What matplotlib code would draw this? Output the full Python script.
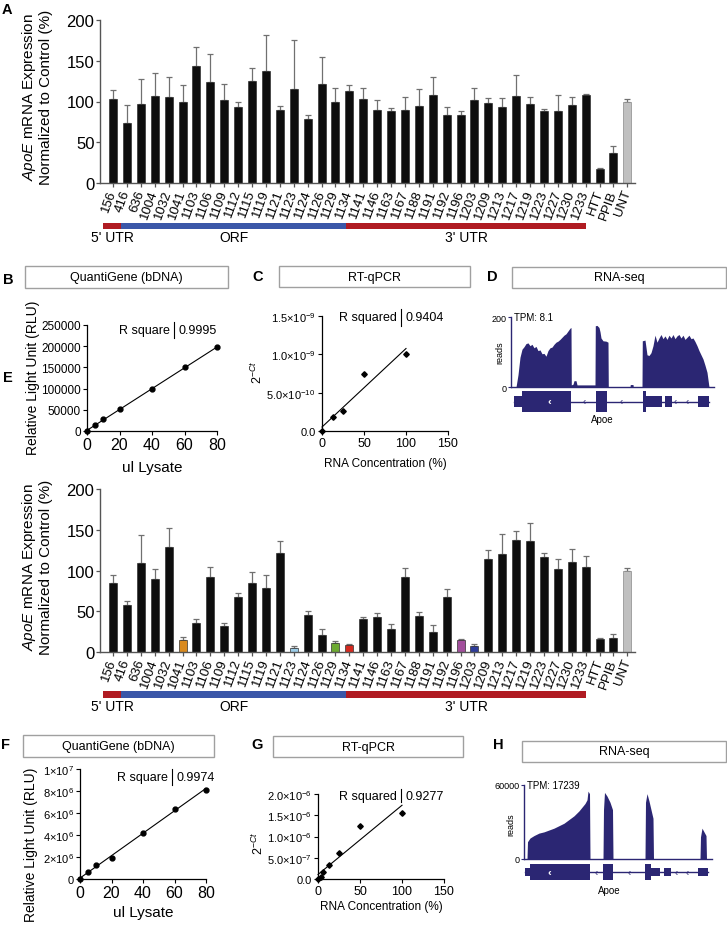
import numpy as np
import matplotlib
matplotlib.use('Agg')
import matplotlib.pyplot as plt
from matplotlib.patches import Rectangle

plt.rcParams['font.family'] = ['Liberation Sans', 'DejaVu Sans']
plt.rcParams['mathtext.fontset'] = 'custom'
plt.rcParams['mathtext.rm'] = 'Liberation Sans'
plt.rcParams['mathtext.it'] = 'Liberation Sans:italic'
plt.rcParams['mathtext.bf'] = 'Liberation Sans:bold'

W, H = 727, 937

# ---------------- data ----------------
oligos = ['156', '416', '636', '1004', '1032', '1041', '1103', '1106', '1109', '1112',
          '1115', '1119', '1121', '1123', '1124', '1126', '1129', '1134', '1141', '1146',
          '1163', '1167', '1188', '1191', '1192', '1196', '1203', '1209', '1213', '1217',
          '1219', '1223', '1227', '1230', '1233', 'HTT', 'PPIB', 'UNT']

a_mean = [103, 74, 96.5, 107, 105, 99, 144, 124, 102, 93,
          125, 137, 89, 115, 78, 121.5, 100, 113, 103, 89,
          88, 90, 95, 107.6, 84, 83.4, 102, 98, 93, 107,
          96.5, 88, 88, 96, 108, 17, 37, 100]
a_err = [11, 22, 31.5, 28, 25, 21, 23, 34, 20, 7,
         16, 45, 5.5, 61, 6, 33.5, 16, 7, 13, 13,
         3.6, 15, 20, 22, 9.7, 5.3, 14, 6.7, 11.7, 25,
         9.5, 2.4, 19.6, 10, 1.6, 2, 8.8, 3.5]

e_mean = [85, 58, 109, 89, 129, 15, 35, 92.5, 32, 67.5,
          85, 79, 121, 5.2, 46, 21, 11.6, 8.8, 40.5, 43,
          28, 92.5, 44, 24.5, 67, 15.2, 7.2, 113.5, 120, 138,
          136.5, 116.5, 102, 110, 104, 16, 16.8, 100]
e_err = [9, 5, 34, 13, 23, 4, 5, 12, 3, 5.5,
         13.5, 15, 15, 2.4, 4, 7.5, 2, 1.2, 2, 5,
         6.5, 10.5, 5.6, 8.5, 10, 0.8, 2.4, 12, 25, 10,
         22, 5, 12, 16, 14, 1, 5.6, 3.5]

e_highlight = {'1041': '#D98A1E', '1123': '#9CCDE8', '1129': '#6DAA32',
               '1134': '#D5291F', '1196': '#A24F9C', '1203': '#2E3C99'}
control_label = 'UNT'

regions = ["5' UTR", 'ORF', "3' UTR"]
region_start = [-0.7, 0.6, 16.75]
region_end = [0.6, 16.75, 34.05]
region_colors = ['#B01B22', '#3B57A8', '#B01B22']

b_x = [0, 5, 10, 20, 40, 60, 80]
b_y = [0, 13000, 28000, 52000, 98000, 151000, 197000]
b_r2 = '0.9995'

c_x = [0, 12.5, 25, 50, 100]
c_y = [0, 1.8e-10, 2.6e-10, 7.4e-10, 1.0e-9]
c_r2 = '0.9404'

f_x = [0, 5, 10, 20, 40, 60, 80]
f_y = [0, 6e5, 1.3e6, 1.9e6, 4.2e6, 6.4e6, 8.1e6]
f_r2 = '0.9974'

g_x = [0, 3.125, 6.25, 12.5, 25, 50, 100]
g_y = [0, 0.5e-7, 1.6e-7, 3.3e-7, 6.1e-7, 1.25e-6, 1.55e-6]
g_r2 = '0.9277'

# RNA-seq coverage (position along locus, reads)
d_pos = [5, 7, 9, 11, 13, 15, 17, 19, 21, 23, 25, 27, 29, 31, 33, 35, 37, 39, 41, 43,
         45, 47, 49, 51, 53, 55, 57, 59, 60, 60.3, 62, 63, 65, 66, 84, 84.3, 86, 88, 89, 90,
         92, 95, 97, 97.3, 119, 119.3, 122, 122.3, 131, 131.3, 134, 136, 138, 140, 142, 144,
         146, 148, 150, 152, 154, 156, 158, 160, 162, 164, 166, 168, 170, 172, 174, 176, 178,
         180, 182, 184, 186, 188, 190, 192, 194, 196, 198]
d_reads = [0, 35, 85, 108, 115, 124, 126, 118, 122, 112, 116, 104, 106, 95, 96, 88, 104, 112, 114, 122,
           128, 131, 136, 142, 148, 152, 160, 168, 170, 6, 8, 18, 18, 6, 6, 175, 176, 170, 158, 140,
           132, 131, 128, 0, 0, 7, 7, 0, 0, 132, 134, 92, 90, 98, 118, 148,
           128, 140, 150, 138, 146, 136, 148, 140, 150, 138, 146, 150, 140, 148, 136, 142, 148,
           138, 140, 130, 118, 104, 92, 80, 62, 42, 0]
d_tpm = 'TPM: 8.1'
d_ymax = 200
d_exon_start = [3, 11, 85, 132, 135, 154, 187]
d_exon_end = [11, 60, 96, 135, 151, 161, 198]
d_exon_thick = [False, True, True, True, False, False, False]
d_intron_arrows = [73, 110, 164, 176]
d_exon_arrows = [38]

h_pos = [3, 3.5, 6, 10, 15, 20, 25, 30, 35, 40, 45, 50, 55, 58, 61, 63, 64, 65.5, 66,
         79, 79.5, 80.5, 83, 86, 88.5, 89, 121, 121.5, 123, 125, 127, 129, 129.5,
         176, 176.5, 178, 180, 182, 182.5]
h_reads = [0, 14000, 17000, 19000, 21000, 22000, 23500, 25000, 27000, 29000, 32000, 35000, 39000,
           42000, 45000, 48000, 55000, 53000, 0,
           0, 40000, 54000, 51000, 46000, 40000, 0, 0, 46000, 53000, 47000, 40000, 33000, 0,
           0, 18000, 25000, 22000, 19000, 0]
h_tpm = 'TPM: 17239'
h_ymax = 60000
h_exon_start = [1, 6, 79, 121, 127, 140, 174]
h_exon_end = [6, 66, 89, 127, 136, 147, 184]
h_exon_thick = [False, True, True, True, False, False, False]
h_intron_arrows = [72, 105, 152, 163]
h_exon_arrows = [25]

NAVY = '#2B2673'

# ---------------- figure ----------------
fig = plt.figure(figsize=(W / 100, H / 100), dpi=100)


def px_axes(x0, y0, x1, y1):
    return fig.add_axes([x0 / W, 1 - y1 / H, (x1 - x0) / W, (y1 - y0) / H])


def ftext(x, y, s, **kw):
    return fig.text(x / W, 1 - y / H, s, **kw)


def title_box(x0, y0, x1, y1, s):
    fig.add_artist(Rectangle((x0 / W, 1 - y1 / H), (x1 - x0) / W, (y1 - y0) / H,
                             transform=fig.transFigure, fill=False,
                             edgecolor='#A0A0A0', linewidth=1.0))
    ftext((x0 + x1) / 2, (y0 + y1) / 2, s, ha='center', va='center', fontsize=9)


def panel_letter(x, y, s):
    ftext(x, y, s, ha='center', va='center', fontsize=10.5, fontweight='bold')


XL = (-0.94, 37.55)
BAR_X0, BAR_X1 = 100, 635


def data_to_px(v):
    return BAR_X0 + (v - XL[0]) / (XL[1] - XL[0]) * (BAR_X1 - BAR_X0)


def bar_panel(rect, means, errs, colors, edgecolors, region_rect, label_y, ylab_cy):
    ax = px_axes(*rect)
    x = np.arange(len(oligos))
    ax.errorbar(x, means, yerr=[np.zeros(len(x)), errs], fmt='none', ecolor='#707070',
                elinewidth=0.9, capsize=2.2, capthick=0.9, zorder=1)
    ax.bar(x, means, width=0.58, color=colors, edgecolor=edgecolors, linewidth=0.5, zorder=2)
    ax.set_xlim(*XL)
    ax.set_ylim(0, 200)
    ax.set_yticks([0, 50, 100, 150, 200])
    ax.tick_params(axis='y', labelsize=12, length=3, width=0.9, pad=1, color='#555555')
    ax.set_xticks(x)
    ax.set_xticklabels(oligos, rotation=70, ha='right', va='center', rotation_mode='anchor',
                       fontsize=9.5)
    ax.tick_params(axis='x', length=3, width=0.9, pad=2, color='#555555')
    for s in ['top', 'right']:
        ax.spines[s].set_visible(False)
    for s in ['left', 'bottom']:
        ax.spines[s].set_color('#555555')
        ax.spines[s].set_linewidth(1.0)
    ftext(29, ylab_cy, r'$\it{ApoE}$ mRNA Expression', rotation=90, ha='center', va='center',
          fontsize=11)
    ftext(46.5, ylab_cy, 'Normalized to Control (%)', rotation=90, ha='center', va='center',
          fontsize=11)
    axr = px_axes(*region_rect)
    for name, s0, s1, col in zip(regions, region_start, region_end, region_colors):
        axr.barh(0, s1 - s0, left=s0, height=1.0, color=col, linewidth=0)
    axr.set_xlim(*XL)
    axr.set_ylim(-0.5, 0.5)
    axr.axis('off')
    for name, s0, s1 in zip(regions, region_start, region_end):
        ftext(data_to_px((s0 + s1) / 2), label_y, name, ha='center', va='center', fontsize=10)
    return ax


def r_text(ax, xb, yb, left, right, fs=9):
    ax.text(xb - 0.035, yb, left, transform=ax.transAxes, ha='right', va='center', fontsize=fs)
    ax.text(xb + 0.035, yb, right, transform=ax.transAxes, ha='left', va='center', fontsize=fs)
    ax.plot([xb, xb], [yb - 0.075, yb + 0.075], transform=ax.transAxes, color='black',
            lw=0.8, clip_on=False)


def style_scatter_ax(ax):
    for s in ['top', 'right']:
        ax.spines[s].set_visible(False)
    for s in ['left', 'bottom']:
        ax.spines[s].set_linewidth(0.9)
    ax.tick_params(length=3, width=0.8, pad=1.5)


def fit_line(ax, xs, ys):
    k, b = np.polyfit(xs, ys, 1)
    xx = np.array([min(xs), max(xs)])
    ax.plot(xx, k * xx + b, color='black', lw=0.8, clip_on=False)


def coverage_panel(cov_rect, gene_rect, pos, reads, ymax, ylabel_max, tpm, reads_xy,
                   exs, exe, exthick, iarrows, earrows, apoe_xy, xmax):
    ax = px_axes(*cov_rect)
    ax.fill_between(pos, reads, 0, color=NAVY, linewidth=0)
    ax.set_xlim(0, xmax)
    ax.set_ylim(0, ymax)
    ax.set_xticks([])
    ax.set_yticks([0, ymax])
    ax.set_yticklabels(['0', ylabel_max], fontsize=6.5)
    ax.tick_params(axis='y', length=2, width=0.8, pad=1, color=NAVY)
    for s in ['top', 'right']:
        ax.spines[s].set_visible(False)
    for s in ['left', 'bottom']:
        ax.spines[s].set_color(NAVY)
        ax.spines[s].set_linewidth(1.0)
    ax.text(0.015, 1.0, tpm, transform=ax.transAxes, ha='left', va='center', fontsize=7)
    ftext(reads_xy[0], reads_xy[1], 'reads', rotation=90, ha='center', va='center', fontsize=6.5)
    axg = px_axes(*gene_rect)
    axg.set_xlim(0, xmax)
    axg.set_ylim(-1.05, 1.05)
    axg.axis('off')
    axg.plot([exs[0], exe[-1]], [0, 0], color=NAVY, lw=1.0)
    for s0, s1, th in zip(exs, exe, exthick):
        h = 1.0 if th else 0.55
        axg.add_patch(Rectangle((s0, -h), s1 - s0, 2 * h, facecolor=NAVY, edgecolor='none'))
    for a in iarrows:
        axg.text(a, 0, '\u2039', color=NAVY, ha='center', va='center', fontsize=7)
    for a in earrows:
        axg.text(a, 0, '\u2039', color='white', ha='center', va='center', fontsize=8,
                 fontweight='bold')
    ftext(apoe_xy[0], apoe_xy[1], 'Apoe', ha='center', va='center', fontsize=7)


# ---------------- Panel A ----------------
a_colors = ['#C0C0C0' if o == control_label else '#0E0E0E' for o in oligos]
a_edges = ['#8A8A8A' if o == control_label else '#333333' for o in oligos]
bar_panel((BAR_X0, 21, BAR_X1, 184), a_mean, a_err, a_colors, a_edges, (BAR_X0, 224, BAR_X1, 230),
          238, 97)
panel_letter(7, 10, 'A')

# ---------------- Panel E ----------------
e_colors = []
for o in oligos:
    if o == control_label:
        e_colors.append('#C0C0C0')
    elif o in e_highlight:
        e_colors.append(e_highlight[o])
    else:
        e_colors.append('#0E0E0E')
bar_panel((BAR_X0, 490, BAR_X1, 653), e_mean, e_err, e_colors, a_edges,
          (BAR_X0, 692, BAR_X1, 699), 707, 567)
panel_letter(8, 378, 'E')

# ---------------- Panel B ----------------
panel_letter(8, 280, 'B')
title_box(25, 267, 228, 289, 'QuantiGene (bDNA)')
axb = px_axes(87, 326, 217, 432)
fit_line(axb, b_x, b_y)
axb.plot(b_x, b_y, 'o', color='black', ms=3.5, clip_on=False, zorder=3)
axb.set_xlim(0, 80)
axb.set_ylim(0, 250000)
axb.set_xticks([0, 20, 40, 60, 80])
axb.set_yticks([0, 50000, 100000, 150000, 200000, 250000])
axb.set_yticklabels(['0', '50000', '100000', '150000', '200000', '250000'], fontsize=8.5)
axb.tick_params(axis='x', labelsize=11.5)
style_scatter_ax(axb)
r_text(axb, 0.669, 0.953, 'R square', b_r2)
ftext(152, 468, 'ul Lysate', ha='center', va='center', fontsize=11)
ftext(33, 378, 'Relative Light Unit (RLU)', rotation=90, ha='center', va='center', fontsize=10)

# ---------------- Panel C ----------------
panel_letter(258, 277, 'C')
title_box(279, 267, 470, 288, 'RT-qPCR')
axc = px_axes(322, 317, 448, 432)
fit_line(axc, c_x, c_y)
axc.plot(c_x, c_y, 'D', color='black', ms=2.8, clip_on=False, zorder=3)
axc.set_xlim(0, 150)
axc.set_ylim(0, 1.5e-9)
axc.set_xticks([0, 50, 100, 150])
axc.set_yticks([0, 5e-10, 1e-9, 1.5e-9])
axc.set_yticklabels(['0.0', r'5.0×10$^{-10}$', r'1.0×10$^{-9}$', r'1.5×10$^{-9}$'], fontsize=8)
axc.tick_params(axis='x', labelsize=9)
style_scatter_ax(axc)
r_text(axc, 0.627, 0.99, 'R squared', c_r2)
ftext(385, 464, 'RNA Concentration (%)', ha='center', va='center', fontsize=8.5)
ftext(257, 372, r'2$^{-Ct}$', rotation=90, ha='center', va='center', fontsize=9)

# ---------------- Panel D ----------------
panel_letter(492, 277, 'D')
title_box(512, 268, 726, 289, 'RNA-seq')
coverage_panel((511, 318, 714, 388), (511, 392, 714, 413), d_pos, d_reads, d_ymax, '200',
               d_tpm, (500, 353), d_exon_start, d_exon_end, d_exon_thick, d_intron_arrows,
               d_exon_arrows, (602, 420), 203)

# ---------------- Panel F ----------------
panel_letter(5, 745, 'F')
title_box(23, 736, 214, 758, 'QuantiGene (bDNA)')
axf = px_axes(80, 770, 206, 880)
fit_line(axf, f_x, f_y)
axf.plot(f_x, f_y, 'o', color='black', ms=3.5, clip_on=False, zorder=3)
axf.set_xlim(0, 80)
axf.set_ylim(0, 1e7)
axf.set_xticks([0, 20, 40, 60, 80])
axf.set_yticks([0, 2e6, 4e6, 6e6, 8e6, 1e7])
axf.set_yticklabels(['0', r'2×10$^{6}$', r'4×10$^{6}$', r'6×10$^{6}$', r'8×10$^{6}$',
                     r'1×10$^{7}$'], fontsize=8)
axf.tick_params(axis='x', labelsize=11.5)
style_scatter_ax(axf)
r_text(axf, 0.73, 0.927, 'R square', f_r2)
ftext(143, 913, 'ul Lysate', ha='center', va='center', fontsize=11)
ftext(31, 845, 'Relative Light Unit (RLU)', rotation=90, ha='center', va='center', fontsize=10)

# ---------------- Panel G ----------------
panel_letter(257, 745, 'G')
title_box(273, 737, 463, 758, 'RT-qPCR')
axg = px_axes(318, 795, 444, 880)
fit_line(axg, g_x, g_y)
axg.plot(g_x, g_y, 'D', color='black', ms=2.8, clip_on=False, zorder=3)
axg.set_xlim(0, 150)
axg.set_ylim(0, 2e-6)
axg.set_xticks([0, 50, 100, 150])
axg.set_yticks([0, 5e-7, 1e-6, 1.5e-6, 2e-6])
axg.set_yticklabels(['0.0', r'5.0×10$^{-7}$', r'1.0×10$^{-6}$', r'1.5×10$^{-6}$',
                     r'2.0×10$^{-6}$'], fontsize=8)
axg.tick_params(axis='x', labelsize=9)
style_scatter_ax(axg)
r_text(axg, 0.66, 0.98, 'R squared', g_r2)
ftext(381, 907, 'RNA Concentration (%)', ha='center', va='center', fontsize=8.5)
ftext(258, 843, r'2$^{-Ct}$', rotation=90, ha='center', va='center', fontsize=9)

# ---------------- Panel H ----------------
panel_letter(498, 745, 'H')
title_box(522, 742, 726, 763, 'RNA-seq')
coverage_panel((524, 786, 712, 860), (524, 865, 712, 881), h_pos, h_reads, h_ymax, '60000',
               h_tpm, (511, 825), h_exon_start, h_exon_end, h_exon_thick, h_intron_arrows,
               h_exon_arrows, (609, 891), 188)

fig.savefig('out.png', dpi=100)
